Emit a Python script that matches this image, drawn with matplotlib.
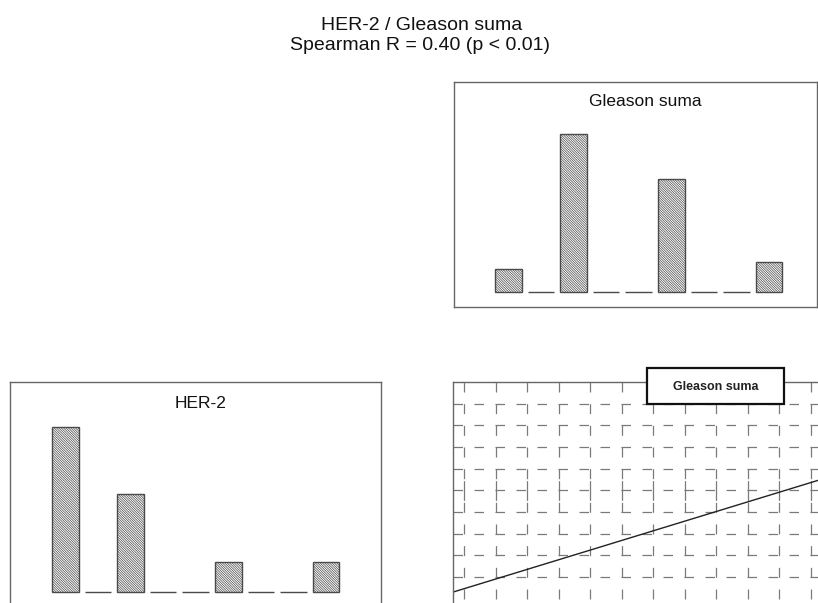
import matplotlib
matplotlib.use("Agg")
import matplotlib.pyplot as plt
from matplotlib.patches import Rectangle
import numpy as np

plt.rcParams['font.family'] = ['Liberation Sans', 'DejaVu Sans']
plt.rcParams['lines.scale_dashes'] = False
plt.rcParams['hatch.linewidth'] = 0.5

# ---------------- data ----------------
title_line1 = "HER-2 / Gleason suma"
title_line2 = "Spearman R = 0.40 (p < 0.01)"
her2_title = "HER-2"
gleason_title = "Gleason suma"
legend_label = "Gleason suma"

bin_index = [0, 1, 2, 3, 4, 5, 6, 7, 8]
her2_counts = [22, 0, 13, 0, 0, 4, 0, 0, 4]
gleason_counts = [3, 0, 21, 0, 0, 15, 0, 0, 4]

# scatter panel (grid units): regression line y = a + b*x
reg_intercept = 1.46
reg_slope = 0.445
grid_cols = list(range(0, 13))
grid_rows = list(range(2, 11))

# ---------------- layout helpers ----------------
W, H = 818, 603
fig = plt.figure(figsize=(W / 100, H / 100), dpi=100)
PT = 0.72  # points per pixel at 100 dpi


def px_axes(x0, y0, x1, y1):
    return fig.add_axes([x0 / W, 1 - y1 / H, (x1 - x0) / W, (y1 - y0) / H])


spine_col = '#666666'
bar_edge = '#4a4a4a'


def style_box(ax):
    ax.set_xticks([])
    ax.set_yticks([])
    for s in ax.spines.values():
        s.set_color(spine_col)
        s.set_linewidth(1.0)
    ax.set_facecolor('white')


def hist_panel(ax, counts, title, tx, ty):
    style_box(ax)
    ax.bar(bin_index, counts, width=0.815, color='white', edgecolor=bar_edge,
           linewidth=1.0, hatch='\\' * 14)
    ax.set_ylim(-2.04, 27.96)
    fig.text(tx / W, 1 - ty / H, title, ha='center', va='baseline',
             fontsize=12.5, color='#111111')


# top-right histogram (Gleason)
ax_g = px_axes(454, 82, 817, 307)
hist_panel(ax_g, gleason_counts, gleason_title, 645, 106.5)
ax_g.set_xlim((454 - 508.5) / 32.56, (817 - 508.5) / 32.56)

# bottom-left histogram (HER-2)
ax_h = px_axes(10, 382, 381, 607)
hist_panel(ax_h, her2_counts, her2_title, 201, 407.5)
ax_h.set_xlim((10 - 65.5) / 32.56, (381 - 65.5) / 32.56)

# bottom-right scatter panel
col0, colw = 464.0, 31.5
row0, rowh = 382.0, 21.67
sx0, sx1 = 453, 840
sy0, sy1 = 382, row0 + rowh * 11
ax_s = px_axes(sx0, sy0, sx1, sy1)
style_box(ax_s)
xl = ((sx0 - col0) / colw, (sx1 - col0) / colw)
ax_s.set_xlim(*xl)
ax_s.set_ylim(0, 11)
grid_col = '#7a7a7a'
h_kw = dict(color=grid_col, linewidth=0.9, dashes=(9.5 * PT, 11.5 * PT),
            dash_capstyle='butt')
v_kw = dict(color=grid_col, linewidth=0.9, dashes=(10 * PT, 11.67 * PT),
            dash_capstyle='butt')
for r in grid_rows:
    ax_s.plot([xl[0], xl[1]], [r, r], **h_kw)
for c in grid_cols:
    # drawn from the top down to the middle row and from the bottom up past it
    ax_s.plot([c, c], [11, 5.5], **v_kw)
    ax_s.plot([c, c], [1, 6.5], **v_kw)
xs = np.array(xl)
ax_s.plot(xs, reg_intercept + reg_slope * xs, color='#222222', linewidth=1.0)

# legend box
lx0, ly0, lx1, ly1 = 647, 368, 784, 404
fig.patches.append(Rectangle((lx0 / W, 1 - ly1 / H), (lx1 - lx0) / W, (ly1 - ly0) / H,
                             transform=fig.transFigure, facecolor='white',
                             edgecolor='#111111', linewidth=1.6, zorder=10))
fig.text((lx0 + lx1) / 2 / W, 1 - 386.5 / H, legend_label, ha='center', va='center',
         fontsize=9, fontweight='bold', color='#222222', zorder=11)

# main title
fig.text(422 / W, 1 - 30 / H, title_line1, ha='center', va='baseline', fontsize=14,
         color='#111111')
fig.text(420 / W, 1 - 50.5 / H, title_line2, ha='center', va='baseline', fontsize=14,
         color='#111111')

fig.savefig('out.png', dpi=100)
